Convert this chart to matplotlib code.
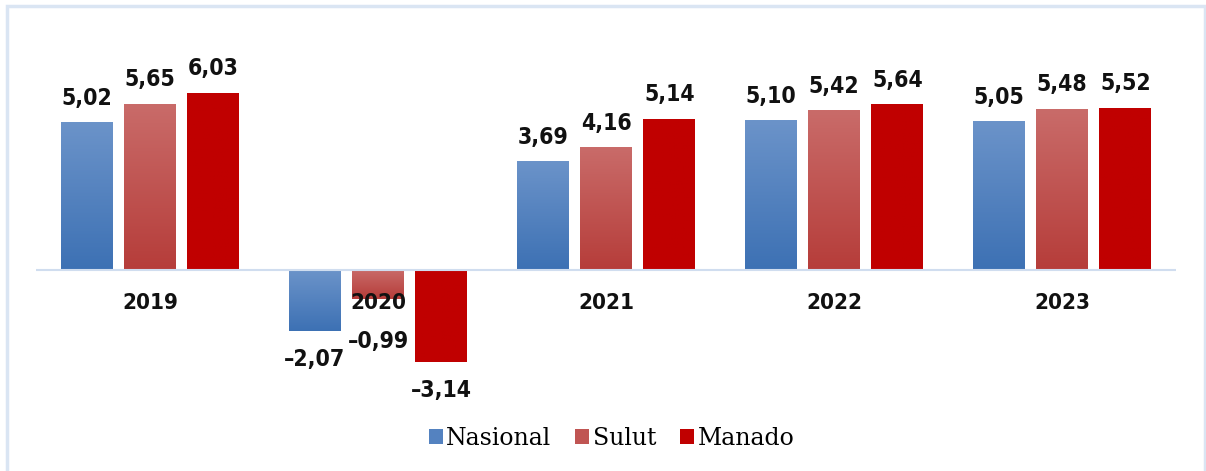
"""Pertumbuhan ekonomi Nasional, Sulut dan Manado 2019-2023."""

import matplotlib
matplotlib.use("Agg")
import matplotlib.pyplot as plt
import numpy as np
from matplotlib.colors import LinearSegmentedColormap
from matplotlib.patches import Rectangle

years = ["2019", "2020", "2021", "2022", "2023"]
nasional = [5.02, -2.07, 3.69, 5.10, 5.05]
sulut = [5.65, -0.99, 4.16, 5.42, 5.48]
manado = [6.03, -3.14, 5.14, 5.64, 5.52]
series_names = ["Nasional", "Sulut", "Manado"]

# (top colour, bottom colour) of each bar's vertical gradient
gradients = [("#6b93c9", "#3d71b4"), ("#c96b69", "#b63d3a"), ("#c00000", "#c00000")]

LABEL_FONT = dict(family=["Liberation Sans Narrow", "DejaVu Sans"], fontstretch="condensed",
                  fontweight="bold", color="#111111")


def gradient_bar(ax, x, width, value, top, bottom):
    cmap = LinearSegmentedColormap.from_list("g", [bottom, top])
    lo, hi = min(0, value), max(0, value)
    grad = np.linspace(0, 1, 64).reshape(-1, 1)
    ax.imshow(grad, cmap=cmap, aspect="auto", origin="lower",
              extent=(x - width / 2, x + width / 2, lo, hi), zorder=2)


fig = plt.figure(figsize=(12.06, 4.71), dpi=100)
ax = fig.add_axes([0.0299, 0.1507, 0.9453, 0.7856])

# light blue frame round the whole chart
fig.patches.append(Rectangle((7 / 1206, -0.01), 1197.5 / 1206, (471 - 6) / 471 + 0.01,
                             transform=fig.transFigure, fill=False,
                             edgecolor="#dae5f3", linewidth=2.5))

x = np.arange(len(years))
width = 0.228
step = 0.278
for i, (vals, (top, bottom)) in enumerate(zip([nasional, sulut, manado], gradients)):
    xs = x + (i - 1) * step
    for xi, v in zip(xs, vals):
        gradient_bar(ax, xi, width, v, top, bottom)
        label = f"{v:.2f}".replace(".", ",").replace("-", "\u2013")
        ypos = v + 0.83 if v >= 0 else min(v - 0.97, -2.45)
        ax.text(xi, ypos, label, ha="center", va="center", fontsize=16.5, **LABEL_FONT)

for xi, yr in zip(x, years):
    ax.text(xi, -1.12, yr, ha="center", va="center", fontsize=16, zorder=5, **LABEL_FONT)

ax.axhline(0, color="#d0ddef", linewidth=1.5, zorder=3)
ax.set_xlim(-0.5, 4.5)
ax.set_ylim(-4.43, 8.18)
ax.axis("off")

handles = [Rectangle((0, 0), 1, 1, facecolor=c) for c in ["#5482c0", "#c05553", "#c00000"]]
fig.legend(handles, series_names, loc="center", bbox_to_anchor=(0.507, 0.07),
           ncol=3, frameon=False, prop={"family": "DejaVu Serif", "size": 17},
           handlelength=0.6, handleheight=0.6, handletextpad=0.15, columnspacing=1.0)

fig.savefig("out.png", dpi=100)
